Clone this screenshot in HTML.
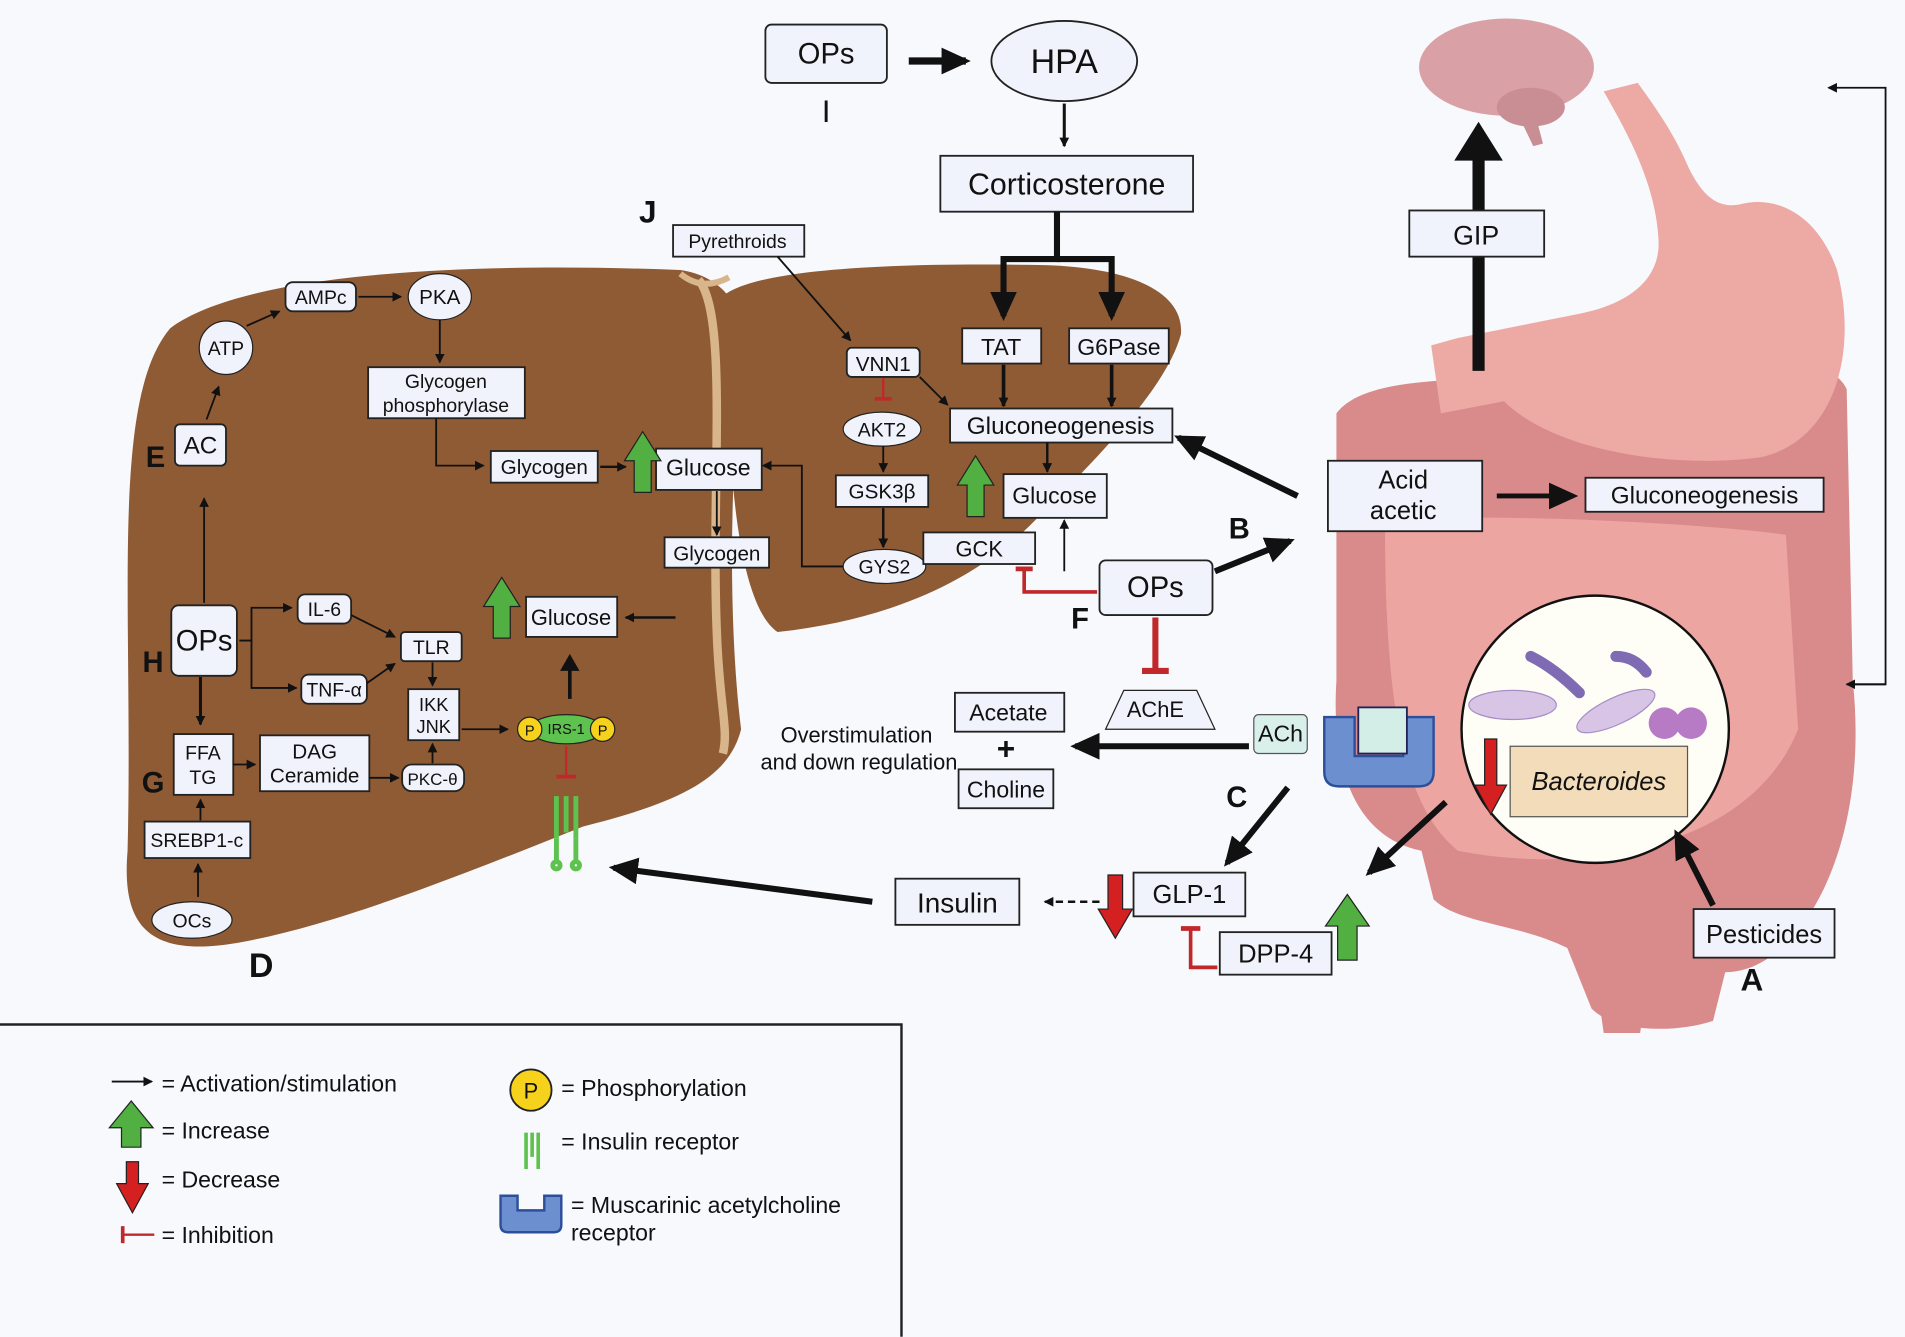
<!DOCTYPE html>
<html><head><meta charset="utf-8"><style>
html,body{margin:0;padding:0;background:#f7f9fc;}
svg{display:block;}
text{font-family:"Liberation Sans",sans-serif;fill:#111;}
.b{fill:#f0f3fb;stroke:#222;stroke-width:1.5;}
</style></head><body>
<svg width="1905" height="1337" viewBox="0 0 1568 1100" xmlns="http://www.w3.org/2000/svg">
<defs>
<marker id="a" markerWidth="8" markerHeight="8" refX="7" refY="4" orient="auto" markerUnits="userSpaceOnUse"><path d="M0,0 L8,4 L0,8z" fill="#111"/></marker>
<marker id="A" markerWidth="24" markerHeight="22" refX="20" refY="11" orient="auto" markerUnits="userSpaceOnUse"><path d="M0,0 L24,11 L0,22z" fill="#111"/></marker>
</defs>
<rect width="1568" height="1100" fill="#f7f9fc"/>
<!-- intestines -->
<path d="M1100,340 C1130,300 1250,320 1300,300 C1400,290 1500,280 1520,320 L1525,560 C1540,700 1480,800 1420,800 L1410,840 C1380,850 1330,850 1310,830 L1290,780 C1250,760 1200,760 1180,740 L1170,700 C1120,690 1095,640 1100,560 Z" fill="#d98b8b"/>
<path d="M1140,430 C1200,420 1400,430 1470,440 L1480,600 C1440,700 1300,720 1200,700 C1150,660 1140,560 1140,430Z" fill="#eca5a0"/>
<path d="M1310,780 L1360,780 L1350,850 L1320,850Z" fill="#d98b8b"/>
<!-- stomach -->
<path d="M1320,75 C1340,110 1362,150 1365,195 C1368,230 1340,250 1300,258 C1260,266 1230,272 1200,278 L1178,284 L1186,340 L1238,330 C1280,372 1380,386 1450,376 C1510,362 1530,290 1512,222 C1496,176 1462,160 1432,168 C1412,172 1400,158 1390,138 C1378,110 1364,90 1348,68 Z" fill="#eda9a3"/>
<!-- brain -->
<ellipse cx="1240" cy="55" rx="72" ry="40" fill="#d9a0a6"/>
<ellipse cx="1260" cy="88" rx="28" ry="16" fill="#c98e94"/>
<path d="M1250,95 L1262,120 L1270,118 L1264,95Z" fill="#c98e94"/>
<!-- GIP arrow -->
<line x1="1217" y1="305" x2="1217" y2="130" stroke="#111" stroke-width="10"/>
<path d="M1197,132 L1217,100 L1237,132Z" fill="#111"/>
<rect class="b" x="1160" y="173" width="111" height="38"/>
<text x="1215" y="201" font-size="22" text-anchor="middle">GIP</text>
<!-- right feedback line -->
<polyline points="1520,563 1552,563 1552,72 1505,72" fill="none" stroke="#111" stroke-width="1.5" marker-end="url(#a)"/>
<polyline points="1552,563 1520,563" fill="none" stroke="#111" stroke-width="1.5" marker-end="url(#a)"/>
<!-- acid acetic -->
<rect class="b" x="1093" y="379" width="127" height="58"/>
<text x="1155" y="402" font-size="21" text-anchor="middle">Acid</text>
<text x="1155" y="427" font-size="21" text-anchor="middle">acetic</text>
<line x1="1232" y1="408" x2="1295" y2="408" stroke="#111" stroke-width="4" marker-end="url(#A)"/>
<rect class="b" x="1305" y="393" width="196" height="28"/>
<text x="1403" y="414" font-size="20" text-anchor="middle">Gluconeogenesis</text>
<!-- bacteria circle -->
<circle cx="1313" cy="600" r="110" fill="#fffef6" stroke="#111" stroke-width="2"/>
<ellipse cx="1245" cy="580" rx="36" ry="12" fill="#d8c5e6" stroke="#a58dc7"/>
<ellipse cx="1330" cy="585" rx="35" ry="11" fill="#d8c5e6" stroke="#a58dc7" transform="rotate(-25 1330 585)"/>
<circle cx="1370" cy="595" r="13" fill="#b77ac4"/><circle cx="1392" cy="595" r="13" fill="#b77ac4"/>
<path d="M1260,540 Q1280,550 1300,570" stroke="#7e6bb3" stroke-width="9" fill="none" stroke-linecap="round"/>
<path d="M1330,540 Q1345,540 1355,553" stroke="#7e6bb3" stroke-width="9" fill="none" stroke-linecap="round"/>
<rect x="1243" y="614" width="146" height="58" fill="#f2dcb9" stroke="#555"/>
<text x="1316" y="650" font-size="21" font-style="italic" text-anchor="middle">Bacteroides</text>
<path d="M1222,608 h10 v38 h8 l-13,24 l-13,-24 h8z" fill="#d42020" stroke="#222"/>
<!-- pesticides -->
<line x1="1410" y1="745" x2="1380" y2="686" stroke="#111" stroke-width="5" marker-end="url(#A)"/>
<rect class="b" x="1394" y="748" width="116" height="40"/>
<text x="1452" y="776" font-size="21" text-anchor="middle">Pesticides</text>
<text x="1442" y="815" font-size="26" font-weight="bold" text-anchor="middle">A</text>
<!-- muscarinic receptor -->
<path d="M1090,590 h25 v32 h40 v-32 h25 v45 q0,12 -12,12 h-66 q-12,0 -12,-12z" fill="#6b8fcf" stroke="#2d4f9a" stroke-width="2"/>
<rect x="1118" y="582" width="40" height="38" fill="#d3ede7" stroke="#225" stroke-width="1.5"/>
<rect x="1032" y="588" width="44" height="32" rx="4" fill="#d9efea" stroke="#555"/>
<text x="1054" y="610" font-size="19" text-anchor="middle">ACh</text>
<!-- liver -->
<path d="M140,270 C200,225 380,215 560,222 C600,228 620,260 610,310 C600,400 600,520 610,600 C600,640 560,660 480,680 C380,720 280,760 200,775 C120,790 100,760 105,700 C110,500 90,330 140,270Z" fill="#8f5b35"/>
<path d="M590,250 C600,225 700,215 860,218 C930,220 975,240 972,275 C960,320 900,380 850,430 C800,480 730,510 640,520 C610,500 600,400 600,320Z" fill="#8f5b35"/>
<path d="M575,230 C600,260 585,400 590,520 C592,580 600,600 595,620" stroke="#d9b58c" stroke-width="7" fill="none"/>
<path d="M560,225 Q578,240 600,228" stroke="#d9b58c" stroke-width="5" fill="none"/>
<!-- J and pyrethroids -->
<text x="526" y="183" font-size="26" font-weight="bold">J</text>
<rect class="b" x="554" y="185" width="108" height="26"/>
<text x="607" y="204" font-size="16" text-anchor="middle">Pyrethroids</text>
<line x1="640" y1="211" x2="700" y2="280" stroke="#111" stroke-width="1.5" marker-end="url(#a)"/>
<!-- OPs I -> HPA -->
<rect class="b" x="630" y="20" width="100" height="48" rx="5"/>
<text x="680" y="52" font-size="24" text-anchor="middle">OPs</text>
<text x="680" y="100" font-size="26" font-family="Liberation Serif" text-anchor="middle">I</text>
<line x1="748" y1="50" x2="795" y2="50" stroke="#111" stroke-width="6" marker-end="url(#A)"/>
<ellipse cx="876" cy="50" rx="60" ry="33" fill="#f0f3fb" stroke="#222" stroke-width="1.5"/>
<text x="876" y="60" font-size="28" text-anchor="middle">HPA</text>
<line x1="876" y1="85" x2="876" y2="120" stroke="#111" stroke-width="2.5" marker-end="url(#a)"/>
<rect class="b" x="774" y="128" width="208" height="46"/>
<text x="878" y="160" font-size="25" text-anchor="middle">Corticosterone</text>
<polyline points="870,174 870,213 826,213 826,260" fill="none" stroke="#111" stroke-width="5" marker-end="url(#A)"/>
<polyline points="870,213 915,213 915,260" fill="none" stroke="#111" stroke-width="5" marker-end="url(#A)"/>
<rect class="b" x="792" y="270" width="65" height="29"/>
<text x="824" y="292" font-size="19" text-anchor="middle">TAT</text>
<rect class="b" x="880" y="270" width="82" height="29"/>
<text x="921" y="292" font-size="19" text-anchor="middle">G6Pase</text>
<line x1="826" y1="300" x2="826" y2="334" stroke="#111" stroke-width="3" marker-end="url(#a)"/>
<line x1="915" y1="300" x2="915" y2="334" stroke="#111" stroke-width="3" marker-end="url(#a)"/>
<rect class="b" x="782" y="336" width="183" height="28"/>
<text x="873" y="357" font-size="20" text-anchor="middle">Gluconeogenesis</text>
<line x1="1068" y1="408" x2="970" y2="360" stroke="#111" stroke-width="5" marker-end="url(#A)"/>
<line x1="862" y1="364" x2="862" y2="388" stroke="#111" stroke-width="2" marker-end="url(#a)"/>
<rect class="b" x="826" y="390" width="85" height="36"/>
<text x="868" y="414" font-size="19" text-anchor="middle">Glucose</text>
<path d="M796,425 v-26 h-8 l15,-24 l15,24 h-8 v26z" fill="#52b043" stroke="#222"/>
<line x1="876" y1="470" x2="876" y2="428" stroke="#111" stroke-width="1.5" marker-end="url(#a)"/>
<!-- VNN1 chain -->
<rect class="b" x="697" y="286" width="60" height="24" rx="4"/>
<text x="727" y="305" font-size="17" text-anchor="middle">VNN1</text>
<line x1="757" y1="310" x2="780" y2="333" stroke="#111" stroke-width="1.5" marker-end="url(#a)"/>
<line x1="727" y1="311" x2="727" y2="328" stroke="#c0282b" stroke-width="2"/>
<line x1="720" y1="328" x2="734" y2="328" stroke="#c0282b" stroke-width="3"/>
<ellipse cx="726" cy="353" rx="32" ry="14" fill="#f0f3fb" stroke="#222"/>
<text x="726" y="359" font-size="16" text-anchor="middle">AKT2</text>
<line x1="727" y1="367" x2="727" y2="388" stroke="#111" stroke-width="1.5" marker-end="url(#a)"/>
<rect class="b" x="688" y="391" width="76" height="26"/>
<text x="726" y="410" font-size="17" text-anchor="middle">GSK3β</text>
<line x1="727" y1="418" x2="727" y2="450" stroke="#111" stroke-width="2" marker-end="url(#a)"/>
<ellipse cx="728" cy="466" rx="34" ry="14" fill="#f0f3fb" stroke="#222"/>
<text x="728" y="472" font-size="16" text-anchor="middle">GYS2</text>
<rect class="b" x="760" y="438" width="92" height="26"/>
<text x="806" y="458" font-size="18" text-anchor="middle">GCK</text>
<polyline points="694,466 660,466 660,383 628,383" fill="none" stroke="#111" stroke-width="1.5" marker-end="url(#a)"/>
<!-- middle glucose -->
<rect class="b" x="540" y="369" width="87" height="34"/>
<text x="583" y="391" font-size="19" text-anchor="middle">Glucose</text>
<path d="M522,405 v-26 h-8 l15,-24 l15,24 h-8 v26z" fill="#52b043" stroke="#222"/>
<line x1="590" y1="404" x2="590" y2="440" stroke="#111" stroke-width="1.5" marker-end="url(#a)"/>
<rect class="b" x="547" y="442" width="86" height="25"/>
<text x="590" y="461" font-size="17" text-anchor="middle">Glycogen</text>
<!-- E pathway -->
<rect class="b" x="144" y="349" width="42" height="34" rx="4"/>
<text x="165" y="373" font-size="20" text-anchor="middle">AC</text>
<text x="128" y="384" font-size="24" font-weight="bold" text-anchor="middle">E</text>
<line x1="170" y1="345" x2="180" y2="318" stroke="#111" stroke-width="1.5" marker-end="url(#a)"/>
<circle cx="186" cy="286" r="22" fill="#f0f3fb" stroke="#222"/>
<text x="186" y="292" font-size="16" text-anchor="middle">ATP</text>
<line x1="203" y1="268" x2="230" y2="256" stroke="#111" stroke-width="1.5" marker-end="url(#a)"/>
<rect class="b" x="235" y="232" width="58" height="24" rx="6"/>
<text x="264" y="250" font-size="16" text-anchor="middle">AMPc</text>
<line x1="295" y1="244" x2="330" y2="244" stroke="#111" stroke-width="1.5" marker-end="url(#a)"/>
<ellipse cx="362" cy="244" rx="26" ry="19" fill="#f0f3fb" stroke="#222"/>
<text x="362" y="250" font-size="17" text-anchor="middle">PKA</text>
<line x1="362" y1="263" x2="362" y2="298" stroke="#111" stroke-width="1.5" marker-end="url(#a)"/>
<rect class="b" x="303" y="302" width="129" height="42"/>
<text x="367" y="319" font-size="16" text-anchor="middle">Glycogen</text>
<text x="367" y="339" font-size="16" text-anchor="middle">phosphorylase</text>
<polyline points="359,344 359,383 398,383" fill="none" stroke="#111" stroke-width="1.5" marker-end="url(#a)"/>
<rect class="b" x="404" y="371" width="88" height="26"/>
<text x="448" y="390" font-size="17" text-anchor="middle">Glycogen</text>
<line x1="494" y1="384" x2="515" y2="384" stroke="#111" stroke-width="2" marker-end="url(#a)"/>
<!-- H OPs -->
<rect class="b" x="141" y="498" width="54" height="58" rx="6"/>
<text x="168" y="535" font-size="24" text-anchor="middle">OPs</text>
<text x="126" y="553" font-size="24" font-weight="bold" text-anchor="middle">H</text>
<line x1="168" y1="496" x2="168" y2="410" stroke="#111" stroke-width="1.5" marker-end="url(#a)"/>
<polyline points="197,527 207,527 207,500 240,500" fill="none" stroke="#111" stroke-width="1.5" marker-end="url(#a)"/>
<polyline points="207,527 207,566 244,566" fill="none" stroke="#111" stroke-width="1.5" marker-end="url(#a)"/>
<rect class="b" x="245" y="489" width="44" height="24" rx="6"/>
<text x="267" y="507" font-size="16" text-anchor="middle">IL-6</text>
<rect class="b" x="248" y="555" width="54" height="24" rx="6"/>
<text x="275" y="573" font-size="16" text-anchor="middle">TNF-α</text>
<line x1="289" y1="506" x2="325" y2="524" stroke="#111" stroke-width="1.5" marker-end="url(#a)"/>
<line x1="302" y1="562" x2="325" y2="546" stroke="#111" stroke-width="1.5" marker-end="url(#a)"/>
<rect class="b" x="330" y="520" width="50" height="24" rx="3"/>
<text x="355" y="538" font-size="16" text-anchor="middle">TLR</text>
<line x1="356" y1="545" x2="356" y2="564" stroke="#111" stroke-width="1.5" marker-end="url(#a)"/>
<rect class="b" x="336" y="567" width="42" height="42"/>
<text x="357" y="585" font-size="15" text-anchor="middle">IKK</text>
<text x="357" y="603" font-size="15" text-anchor="middle">JNK</text>
<line x1="380" y1="600" x2="418" y2="600" stroke="#111" stroke-width="1.5" marker-end="url(#a)"/>
<ellipse cx="466" cy="600" rx="30" ry="12" fill="#5ec24e" stroke="#222"/>
<circle cx="436" cy="600" r="10" fill="#f7d21d" stroke="#222"/><circle cx="496" cy="600" r="10" fill="#f7d21d" stroke="#222"/>
<text x="436" y="605" font-size="12" text-anchor="middle">P</text><text x="496" y="605" font-size="12" text-anchor="middle">P</text>
<text x="466" y="604" font-size="12" text-anchor="middle">IRS-1</text>
<line x1="469" y1="575" x2="469" y2="550" stroke="#111" stroke-width="3"/>
<path d="M461,552 L469,538 L477,552Z" fill="#111"/>
<rect class="b" x="433" y="491" width="75" height="33"/>
<text x="470" y="514" font-size="18" text-anchor="middle">Glucose</text>
<path d="M406,525 v-26 h-8 l15,-24 l15,24 h-8 v26z" fill="#52b043" stroke="#222"/>
<line x1="556" y1="508" x2="515" y2="508" stroke="#111" stroke-width="2" marker-end="url(#a)"/>
<line x1="466" y1="614" x2="466" y2="638" stroke="#c0282b" stroke-width="2"/>
<line x1="458" y1="639" x2="474" y2="639" stroke="#c0282b" stroke-width="3"/>
<g stroke="#5ec24e" stroke-width="4" fill="none"><path d="M458,655 v35 M466,655 v30 M474,655 v35"/><circle cx="458" cy="712" r="3"/><circle cx="474" cy="712" r="3"/></g>
<path d="M458,690 v20 M474,690 v20" stroke="#5ec24e" stroke-width="4"/>
<!-- G -->
<line x1="165" y1="557" x2="165" y2="596" stroke="#111" stroke-width="2.5" marker-end="url(#a)"/>
<rect class="b" x="143" y="604" width="49" height="50"/>
<text x="167" y="625" font-size="16" text-anchor="middle">FFA</text>
<text x="167" y="645" font-size="16" text-anchor="middle">TG</text>
<text x="126" y="652" font-size="24" font-weight="bold" text-anchor="middle">G</text>
<line x1="192" y1="629" x2="210" y2="629" stroke="#111" stroke-width="1.5" marker-end="url(#a)"/>
<rect class="b" x="214" y="605" width="90" height="46"/>
<text x="259" y="624" font-size="17" text-anchor="middle">DAG</text>
<text x="259" y="644" font-size="17" text-anchor="middle">Ceramide</text>
<line x1="304" y1="640" x2="328" y2="640" stroke="#111" stroke-width="1.5" marker-end="url(#a)"/>
<rect class="b" x="331" y="629" width="51" height="22" rx="8"/>
<text x="356" y="646" font-size="14" text-anchor="middle">PKC-θ</text>
<line x1="356" y1="628" x2="356" y2="612" stroke="#111" stroke-width="1.5" marker-end="url(#a)"/>
<line x1="165" y1="675" x2="165" y2="658" stroke="#111" stroke-width="1.5" marker-end="url(#a)"/>
<rect class="b" x="119" y="676" width="87" height="30"/>
<text x="162" y="697" font-size="16" text-anchor="middle">SREBP1-c</text>
<line x1="163" y1="738" x2="163" y2="711" stroke="#111" stroke-width="1.5" marker-end="url(#a)"/>
<ellipse cx="158" cy="757" rx="33" ry="15" fill="#f0f3fb" stroke="#222"/>
<text x="158" y="763" font-size="16" text-anchor="middle">OCs</text>
<text x="215" y="804" font-size="28" font-weight="bold" text-anchor="middle">D</text>
<!-- OPs F -->
<rect class="b" x="905" y="461" width="93" height="45" rx="5"/>
<text x="951" y="491" font-size="24" text-anchor="middle">OPs</text>
<text x="889" y="517" font-size="24" font-weight="bold" text-anchor="middle">F</text>
<polyline points="903,487 843,487 843,467" fill="none" stroke="#c0282b" stroke-width="3"/>
<line x1="836" y1="468" x2="850" y2="468" stroke="#c0282b" stroke-width="4"/>
<line x1="1000" y1="470" x2="1062" y2="445" stroke="#111" stroke-width="5" marker-end="url(#A)"/>
<text x="1020" y="443" font-size="24" font-weight="bold" text-anchor="middle">B</text>
<line x1="951" y1="508" x2="951" y2="550" stroke="#c0282b" stroke-width="5"/>
<line x1="940" y1="552" x2="962" y2="552" stroke="#c0282b" stroke-width="5"/>
<path d="M910,600 L1000,600 L985,568 L925,568Z" fill="#f0f3fb" stroke="#222"/>
<text x="951" y="590" font-size="18" text-anchor="middle">AChE</text>
<!-- C: ACh -> Acetate/Choline -->
<line x1="1028" y1="614" x2="885" y2="614" stroke="#111" stroke-width="5" marker-end="url(#A)"/>
<rect class="b" x="786" y="570" width="90" height="32"/>
<text x="830" y="593" font-size="19" text-anchor="middle">Acetate</text>
<text x="828" y="625" font-size="26" font-weight="bold" text-anchor="middle">+</text>
<rect class="b" x="789" y="633" width="78" height="32"/>
<text x="828" y="656" font-size="19" text-anchor="middle">Choline</text>
<text x="705" y="611" font-size="18" text-anchor="middle">Overstimulation</text>
<text x="707" y="633" font-size="18" text-anchor="middle">and down regulation</text>
<text x="1018" y="664" font-size="24" font-weight="bold" text-anchor="middle">C</text>
<line x1="1060" y1="648" x2="1010" y2="710" stroke="#111" stroke-width="5" marker-end="url(#A)"/>
<line x1="1190" y1="660" x2="1127" y2="718" stroke="#111" stroke-width="5" marker-end="url(#A)"/>
<!-- GLP-1 etc -->
<rect class="b" x="933" y="718" width="92" height="36"/>
<text x="979" y="743" font-size="21" text-anchor="middle">GLP-1</text>
<path d="M912,720 h12 v28 h8 l-14,24 l-14,-24 h8z" fill="#d42020" stroke="#222"/>
<line x1="905" y1="742" x2="860" y2="742" stroke="#111" stroke-width="2" stroke-dasharray="6,4" marker-end="url(#a)"/>
<rect class="b" x="737" y="723" width="102" height="38"/>
<text x="788" y="751" font-size="23" text-anchor="middle">Insulin</text>
<line x1="718" y1="742" x2="505" y2="714" stroke="#111" stroke-width="5" marker-end="url(#A)"/>
<polyline points="1002,796 980,796 980,764" fill="none" stroke="#c0282b" stroke-width="3"/>
<line x1="972" y1="764" x2="988" y2="764" stroke="#c0282b" stroke-width="4"/>
<rect class="b" x="1004" y="767" width="92" height="35"/>
<text x="1050" y="792" font-size="21" text-anchor="middle">DPP-4</text>
<path d="M1101,790 v-28 h-10 l18,-26 l18,26 h-10 v28z" fill="#52b043" stroke="#222"/>
<!-- Legend -->
<polyline points="0,843 742,843 742,1100" fill="none" stroke="#222" stroke-width="2"/>
<line x1="92" y1="890" x2="125" y2="890" stroke="#111" stroke-width="1.5" marker-end="url(#a)"/>
<text x="133" y="898" font-size="19">= Activation/stimulation</text>
<path d="M100,944 v-16 h-10 l18,-22 l18,22 h-10 v16z" fill="#52b043" stroke="#222"/>
<text x="133" y="937" font-size="19">= Increase</text>
<path d="M104,956 h10 v18 h8 l-13,24 l-13,-24 h8z" fill="#d42020" stroke="#222"/>
<text x="133" y="977" font-size="19">= Decrease</text>
<line x1="101" y1="1016" x2="127" y2="1016" stroke="#c0282b" stroke-width="2"/>
<line x1="101" y1="1009" x2="101" y2="1023" stroke="#c0282b" stroke-width="3"/>
<text x="133" y="1023" font-size="19">= Inhibition</text>
<circle cx="437" cy="897" r="17" fill="#f7d21d" stroke="#222" stroke-width="1.5"/>
<text x="437" y="904" font-size="18" text-anchor="middle">P</text>
<text x="462" y="902" font-size="19">= Phosphorylation</text>
<g stroke="#5ec24e" stroke-width="3"><path d="M433,932 v30 M438,932 v20 M443,932 v30"/></g>
<text x="462" y="946" font-size="19">= Insulin receptor</text>
<path d="M412,984 h14 v12 h22 v-12 h14 v24 q0,6 -6,6 h-38 q-6,0 -6,-6z" fill="#6b8fcf" stroke="#2d4f9a" stroke-width="2"/>
<text x="470" y="998" font-size="19">= Muscarinic acetylcholine</text>
<text x="470" y="1021" font-size="19">receptor</text>
</svg>
</body></html>
